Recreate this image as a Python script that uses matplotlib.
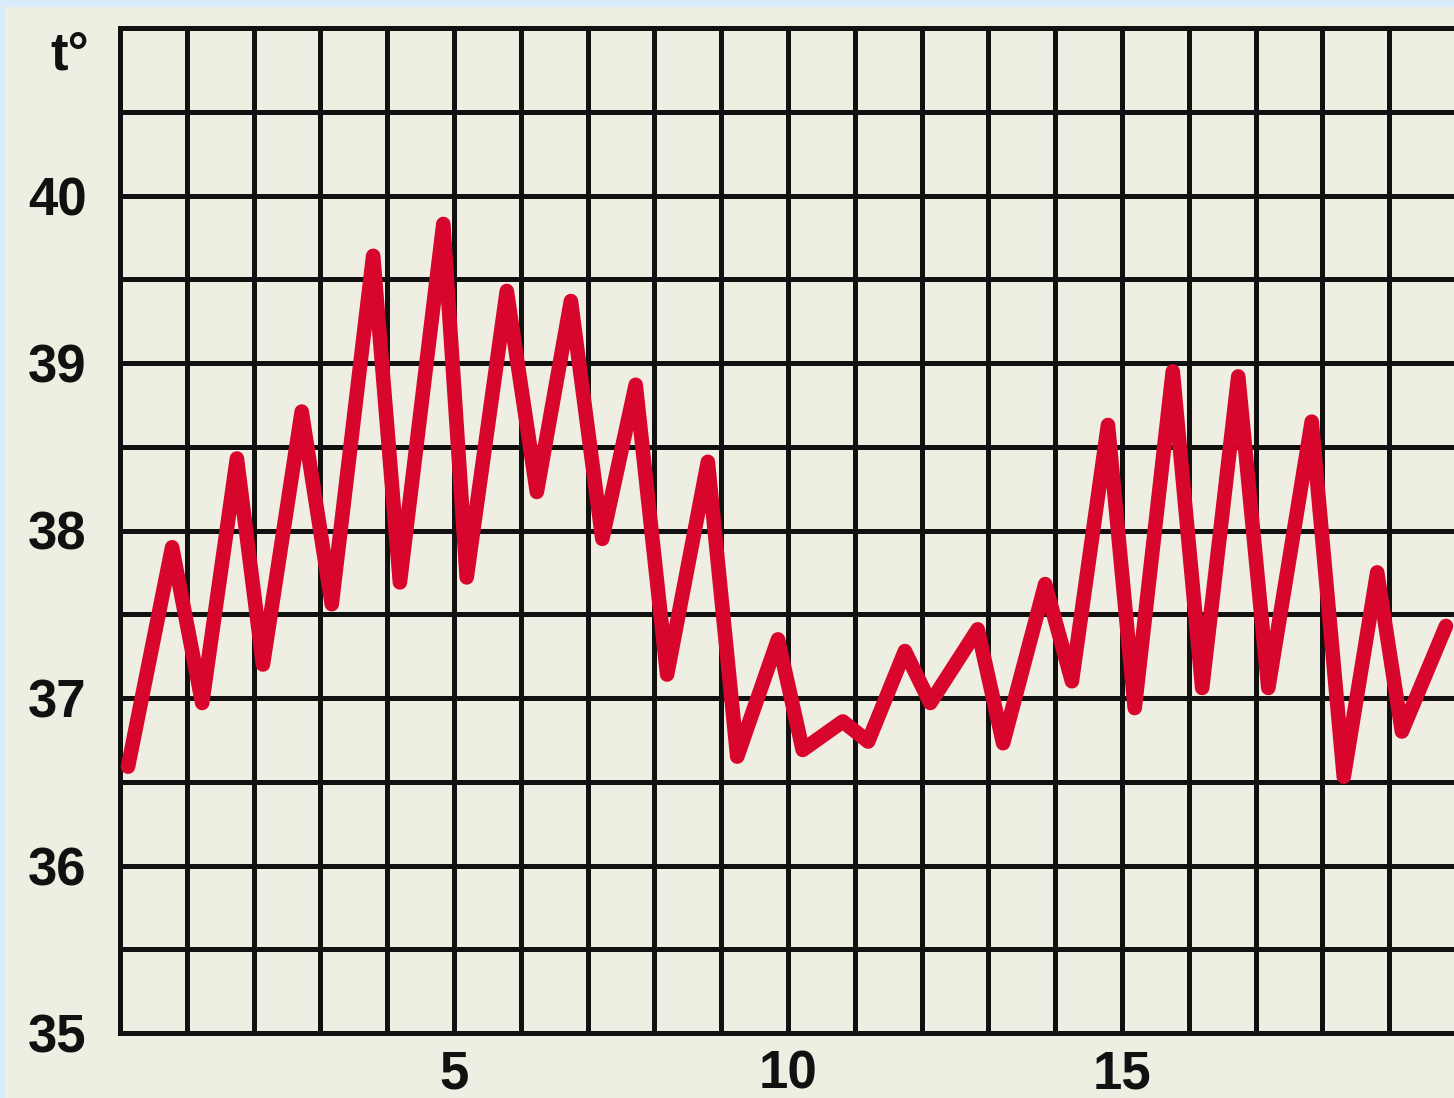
import matplotlib
matplotlib.use("Agg")
import matplotlib.pyplot as plt
from matplotlib.patches import Rectangle

# readings: day (morning / evening) and body temperature
days = [0.12, 0.78, 1.23, 1.75, 2.14, 2.72, 3.17, 3.79, 4.19, 4.84,
        5.19, 5.79, 6.24, 6.75, 7.22, 7.72, 8.19, 8.80, 9.24, 9.85,
        10.22, 10.82, 11.20, 11.75, 12.13, 12.84, 13.22, 13.85, 14.25, 14.79,
        15.19, 15.76, 16.20, 16.74, 17.19, 17.84, 18.32, 18.82, 19.19, 19.85]
temps = [36.59, 37.90, 36.97, 38.43, 37.20, 38.71, 37.56, 39.64, 37.69, 39.83,
         37.72, 39.43, 38.23, 39.37, 37.95, 38.87, 37.14, 38.41, 36.65, 37.35,
         36.69, 36.86, 36.74, 37.28, 36.97, 37.41, 36.73, 37.68, 37.10, 38.63,
         36.94, 38.95, 37.06, 38.92, 37.06, 38.65, 36.53, 37.75, 36.80, 37.43]

x_labels = [5, 10, 15]
y_labels = [35, 36, 37, 38, 39, 40]

bg = "#efeee2"
border = "#d8edf9"
red = "#d8062c"

W, H = 1454, 1098
fig = plt.figure(figsize=(W / 100, H / 100), dpi=100, facecolor=border)
fig.patches.append(Rectangle((5 / W, 0), 1, 1 - 7 / H, transform=fig.transFigure,
                             facecolor=bg, edgecolor="none", zorder=-10))

ax = fig.add_axes([120 / W, 65 / H, 1336 / W, 1005 / H])
ax.set_facecolor(bg)
ax.set_xlim(0, 20)
ax.set_ylim(35, 41)

ax.set_xticks(range(0, 21), minor=True)
ax.set_xticks(x_labels)
ax.set_yticks([v / 2 for v in range(70, 83)], minor=True)
ax.set_yticks(y_labels)
ax.grid(which="both", color="#111111", linewidth=3.6)
ax.set_axisbelow(True)
ax.tick_params(which="both", length=0)
ax.tick_params(axis="y", pad=24)
ax.tick_params(axis="x", pad=12)

for side in ["left", "bottom", "top"]:
    ax.spines[side].set_linewidth(3.6)
    ax.spines[side].set_color("#111111")
ax.spines["right"].set_visible(False)

for lab in ax.get_xticklabels() + ax.get_yticklabels():
    lab.set_fontfamily("Liberation Sans")
    lab.set_fontweight("bold")
    lab.set_fontsize(38)
    lab.set_color("#111111")

ax.plot(days, temps, color=red, linewidth=10.5, solid_joinstyle="round",
        solid_capstyle="round", zorder=5)

fig.text(89 / W, 1 - 70 / H, "t°", ha="right", va="baseline",
         fontfamily="Liberation Sans", fontweight="bold", fontsize=38,
         color="#111111")

fig.savefig("out.png", dpi=100, facecolor=border)
